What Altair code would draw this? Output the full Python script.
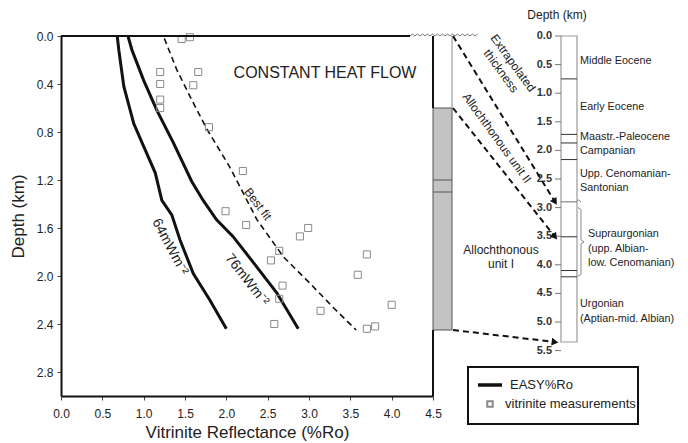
import math
import altair as alt
import pandas as pd

# ---------------- data ----------------
# EASY%Ro model curves (Ro %, depth km)
ro_64 = [0.68, 0.70, 0.76, 0.88, 1.00, 1.14, 1.22, 1.34, 1.44, 1.60, 1.80, 2.00]
depth_64 = [0.00, 0.12, 0.42, 0.73, 0.92, 1.14, 1.37, 1.49, 1.70, 1.98, 2.20, 2.44]
ro_76 = [0.81, 0.86, 1.00, 1.16, 1.36, 1.58, 1.72, 1.88, 2.08, 2.33, 2.61, 2.87]
depth_76 = [0.00, 0.12, 0.37, 0.62, 0.89, 1.21, 1.37, 1.53, 1.67, 1.89, 2.14, 2.44]
# best fit (dashed)
ro_fit = [1.25, 1.40, 1.58, 1.76, 2.04, 2.37, 2.69, 3.01, 3.29, 3.57]
depth_fit = [0.02, 0.28, 0.53, 0.77, 1.09, 1.53, 1.84, 2.06, 2.26, 2.45]
# vitrinite measurements
meas_ro = [1.46, 1.56, 1.20, 1.66, 1.20, 1.60, 1.20, 1.20, 1.79, 2.20, 1.99, 2.24, 2.99,
           2.89, 2.64, 3.70, 2.54, 3.59, 2.68, 2.64, 4.00, 3.14, 2.58, 3.70, 3.80]
meas_depth = [0.025, 0.01, 0.30, 0.30, 0.40, 0.41, 0.53, 0.60, 0.76, 1.125, 1.46, 1.575, 1.60,
              1.67, 1.79, 1.82, 1.87, 1.99, 2.08, 2.19, 2.24, 2.29, 2.40, 2.44, 2.42]

x_ticks = [0.0, 0.5, 1.0, 1.5, 2.0, 2.5, 3.0, 3.5, 4.0, 4.5]
y_ticks = [0.0, 0.4, 0.8, 1.2, 1.6, 2.0, 2.4, 2.8]

# left column (main depth scale, km)
allo_top = 0.6
allo_base = 2.45
allo_inner = [1.2, 1.3]

# right stratigraphic column (its own depth scale, km)
right_ticks = [0.0, 0.5, 1.0, 1.5, 2.0, 2.5, 3.0, 3.5, 4.0, 4.5, 5.0, 5.5]
upper_col = [0.0, 2.9]
lower_col = [2.9, 5.35]
strat_lines = [0.75, 1.72, 1.87, 2.16, 3.51, 4.10, 4.21]
col_labels = ["Middle Eocene", "Early Eocene", "Maastr.-Paleocene", "Campanian",
              "Upp. Cenomanian-", "Santonian", "Urgonian", "(Aptian-mid. Albian)"]
col_label_depth = [0.44, 1.24, 1.77, 2.01, 2.41, 2.65, 4.69, 4.94]
brace_labels = ["Supraurgonian", "(upp. Albian-", "low. Cenomanian)"]
brace_label_depth = [3.47, 3.72, 3.96]
brace_range = [3.0, 4.2]
# correspondence left column -> right column
map_left = [0.0, 0.6, 2.45]
map_right = [2.9, 3.51, 5.35]

# ---------------- layout ----------------
W, H = 372, 360
PXX = W / 4.5          # px per Ro unit
PXY = H / 3.0          # px per km (main)
RPX = 57.2             # px per km (right column)
RF = RPX / PXY         # right km -> main units
FONT = "Liberation Sans"

xs = alt.Scale(domain=[0, 4.5], nice=False, zero=False)
ys = alt.Scale(domain=[0, 3.0], reverse=True, nice=False, zero=False)
x_axis = alt.Axis(values=x_ticks, format=".1f", title="Vitrinite Reflectance (%Ro)",
                  labelFontSize=12, titleFontSize=17, titlePadding=5, labelPadding=8,
                  tickSize=4, labelFlush=False)
y_axis = alt.Axis(values=y_ticks, format=".1f", title="Depth (km)",
                  labelFontSize=12, titleFontSize=17, titlePadding=9, labelPadding=4,
                  tickSize=4, labelFlush=False)


def X(f):
    return alt.X(f, type="quantitative", scale=xs, axis=x_axis)


def Y(f):
    return alt.Y(f, type="quantitative", scale=ys, axis=y_axis)


# curves
curves = pd.DataFrame(
    [{"ro": r, "depth": d, "curve": "64", "i": i} for i, (r, d) in enumerate(zip(ro_64, depth_64))]
    + [{"ro": r, "depth": d, "curve": "76", "i": i} for i, (r, d) in enumerate(zip(ro_76, depth_76))]
)
fit = pd.DataFrame({"ro": ro_fit, "depth": depth_fit, "i": range(len(ro_fit))})
meas = pd.DataFrame({"ro": meas_ro, "depth": meas_depth})

main = alt.Chart(curves).mark_line(color="#111", strokeWidth=3).encode(
    x=X("ro"), y=Y("depth"), detail="curve:N", order="i:Q")
fit_line = alt.Chart(fit).mark_line(color="#111", strokeWidth=1.6, strokeDash=[6, 4]).encode(
    x=X("ro"), y=Y("depth"), order="i:Q")
points = alt.Chart(meas).mark_point(shape="square", size=50, color="#8a8a8a", strokeWidth=1,
                                   filled=False, opacity=1).encode(x=X("ro"), y=Y("depth"))

# frame pieces
top_rule = alt.Chart(pd.DataFrame({"a": [0]})).mark_rule(color="#111", strokeWidth=2).encode(
    x=alt.value(0), x2=alt.value(349), y=alt.value(0))
right_border = alt.Chart(pd.DataFrame({"a": [0.0, allo_base], "b": [allo_top, 3.0]})).mark_rule(
    color="#111", strokeWidth=2).encode(x=alt.value(W), y=Y("a"), y2="b:Q")

# left column
gray_col = alt.Chart(pd.DataFrame({"a": [allo_top], "b": [allo_base]})).mark_rect(
    fill="#c3c3c3", stroke="#555", strokeWidth=1).encode(
    x=alt.value(W), x2=alt.value(W + 19), y=Y("a"), y2="b:Q")
white_edge = alt.Chart(pd.DataFrame({"a": [0.0], "b": [allo_top]})).mark_rule(
    color="#888", strokeWidth=1).encode(x=alt.value(W + 19), y=Y("a"), y2="b:Q")
inner = alt.Chart(pd.DataFrame({"a": allo_inner})).mark_rule(color="#555", strokeWidth=1).encode(
    x=alt.value(W), x2=alt.value(W + 19), y=Y("a"))

# right column
RX0, RX1 = 500, 516
cols = pd.DataFrame({"a": [upper_col[0], lower_col[0]], "b": [upper_col[1], lower_col[1]]})
right_cols = alt.Chart(cols).transform_calculate(
    ya=f"datum.a*{RF}", yb=f"datum.b*{RF}").mark_rect(
    fill="white", stroke="#999", strokeWidth=1.2).encode(
    x=alt.value(RX0), x2=alt.value(RX1), y=Y("ya"), y2="yb:Q")
s_lines = alt.Chart(pd.DataFrame({"a": strat_lines})).transform_calculate(
    ya=f"datum.a*{RF}").mark_rule(color="#333", strokeWidth=1).encode(
    x=alt.value(RX0), x2=alt.value(RX1), y=Y("ya"))
r_ticks = alt.Chart(pd.DataFrame({"a": right_ticks})).transform_calculate(
    ya=f"datum.a*{RF}").mark_rule(color="#777", strokeWidth=1).encode(
    x=alt.value(RX0 - 6), x2=alt.value(RX0), y=Y("ya"))
r_labels = alt.Chart(pd.DataFrame({"a": right_ticks})).transform_calculate(
    ya=f"datum.a*{RF}", t="format(datum.a, '.1f')").mark_text(
    align="right", baseline="middle", font=FONT, fontSize=11, fontWeight="bold", color="#333").encode(
    x=alt.value(RX0 - 9), y=Y("ya"), text="t:N")
r_title = alt.Chart(pd.DataFrame({"t": ["Depth (km)"]})).mark_text(
    font=FONT, fontSize=12, color="#222", baseline="middle").encode(
    x=alt.value(496), y=alt.value(-21), text="t:N")
c_labels = alt.Chart(pd.DataFrame({"t": col_labels, "a": col_label_depth})).transform_calculate(
    ya=f"datum.a*{RF}").mark_text(align="left", baseline="middle", font=FONT, fontSize=10.8,
                                  color="#222").encode(x=alt.value(519), y=Y("ya"), text="t:N")
b_labels = alt.Chart(pd.DataFrame({"t": brace_labels, "a": brace_label_depth})).transform_calculate(
    ya=f"datum.a*{RF}").mark_text(align="left", baseline="middle", font=FONT, fontSize=10.8,
                                  color="#222").encode(x=alt.value(527), y=Y("ya"), text="t:N")

# brace (decoration, in main units)
bt, bb = brace_range[0] * RF, brace_range[1] * RF
bm = (bt + bb) / 2
bx = [517, 520, 520, 523, 520, 520, 517]
by = [bt, bt + 2 / PXY, bm - 2 / PXY, bm, bm + 2 / PXY, bb - 2 / PXY, bb]
brace = alt.Chart(pd.DataFrame({"x": [v / PXX for v in bx], "y": by, "i": range(7)})).mark_line(
    color="#888", strokeWidth=1).encode(x=X("x"), y=Y("y"), order="i:Q")


# zigzag break symbols
def zig(x0, x1, yc, tag):
    rows = []
    n = int((x1 - x0) / 2.5)
    for k in range(n + 1):
        rows.append({"x": (x0 + k * 2.5) / PXX, "y": yc - (2 / PXY if k % 2 else 0), "g": tag, "i": k})
    return rows


zz = pd.DataFrame(zig(349, 417, 0.0, "top") + zig(RX0, 521, upper_col[1] * RF, "right"))
zigzag = alt.Chart(zz).mark_line(color="#777", strokeWidth=1).encode(
    x=X("x"), y=Y("y"), detail="g:N", order="i:Q")

# dashed arrows
AX0, AX1 = W + 20, RX0 - 6
arr = pd.DataFrame({"l": map_left, "r": [v * RF for v in map_right]})
arr["ang"] = [math.degrees(math.atan2((r - l) * PXY, AX1 - AX0)) for l, r in zip(arr["l"], arr["r"])]
arrows = alt.Chart(arr).mark_rule(color="#111", strokeWidth=2, strokeDash=[6, 4]).encode(
    x=alt.value(AX0), x2=alt.value(AX1), y=Y("l"), y2="r:Q")
heads = alt.Chart(arr).mark_point(shape="triangle-right", filled=True, size=60, color="#111",
                                  opacity=1).encode(
    x=alt.value(AX1), y=Y("r"), angle=alt.Angle("ang:Q", scale=None))


# annotations
def txt(t, x, y, size=12, angle=0, align="center"):
    return alt.Chart(pd.DataFrame({"t": [t]})).mark_text(
        font=FONT, fontSize=size, angle=angle, align=align, baseline="middle", color="#222").encode(
        x=alt.value(x), y=alt.value(y), text="t:N")


ann = [
    txt("CONSTANT HEAT FLOW", 264, 37, 16),
    txt("Best fit", 197, 168, 12, 53),
    txt("64mWm⁻²", 109, 211, 14, 62),
    txt("76mWm⁻²", 186, 244, 14, 52),
    txt("Extrapolated", 452, 27, 12, 54),
    txt("thickness", 440, 35, 12, 54),
    txt("Allochthonous unit II", 436, 102, 12, 54),
    txt("Allochthonous", 440, 214, 12),
    txt("unit I", 440, 228, 12),
]

# legend box
leg_box = alt.Chart(pd.DataFrame({"a": [0]})).mark_rect(
    fill="white", stroke="#111", strokeWidth=2).encode(
    x=alt.value(407), x2=alt.value(577), y=alt.value(331), y2=alt.value(388))
leg_line = alt.Chart(pd.DataFrame({"a": [0]})).mark_rule(color="#111", strokeWidth=3.5).encode(
    x=alt.value(417), x2=alt.value(441), y=alt.value(349))
leg_sq = alt.Chart(pd.DataFrame({"a": [0]})).mark_point(
    shape="square", size=30, color="#8a8a8a", filled=False, opacity=1).encode(
    x=alt.value(429), y=alt.value(368))
leg_t1 = txt("EASY%Ro", 449, 349, 13, 0, "left")
leg_t2 = txt("vitrinite measurements", 444, 368, 13, 0, "left")

chart = alt.layer(
    main, fit_line, points,
    gray_col, white_edge, inner, right_border, top_rule, zigzag,
    right_cols, s_lines, r_ticks, r_labels, r_title, c_labels, b_labels, brace,
    arrows, heads,
    *ann,
    leg_box, leg_line, leg_sq, leg_t1, leg_t2,
).properties(
    width=W, height=H,
    autosize=alt.AutoSizeParams(type="none"),
    padding={"left": 53, "top": 28, "right": 247, "bottom": 47},
).configure_view(stroke=None).configure_axis(
    grid=False, domainColor="#111", domainWidth=2, tickColor="#444", labelColor="#222",
    titleColor="#222", labelFont=FONT, titleFont=FONT, titleFontWeight="normal",
)

chart.save("out.html", embed_options={"renderer": "svg", "actions": False})
